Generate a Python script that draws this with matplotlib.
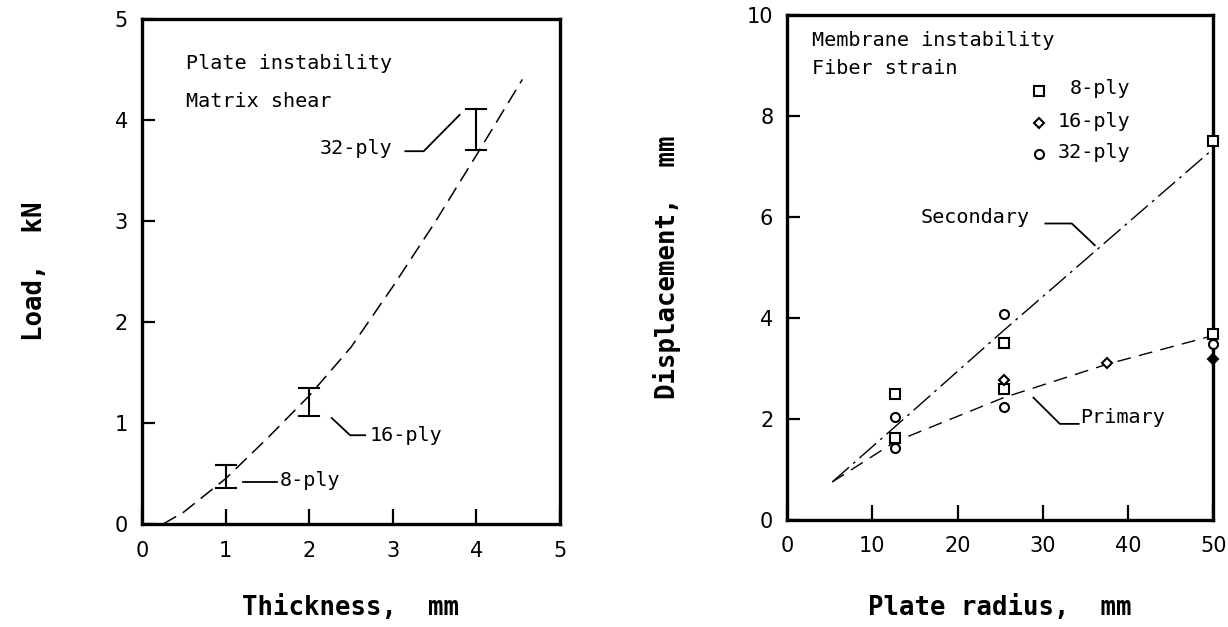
import matplotlib
matplotlib.use("Agg")
import matplotlib.pyplot as plt
import numpy as np

# left panel: plate instability / matrix shear
thick_curve = [0.25, 0.5, 1.0, 1.5, 2.0, 2.5, 3.0, 3.5, 4.0, 4.55]
load_curve = [0.0, 0.12, 0.45, 0.85, 1.27, 1.75, 2.35, 2.98, 3.65, 4.4]
ply_thick = [1, 2, 4]
load_lo = [0.36, 1.07, 3.70]
load_hi = [0.59, 1.35, 4.11]
ply_names = ["8-ply", "16-ply", "32-ply"]

# right panel: membrane instability / fiber strain
sec_r = [5.3, 12.7, 25.4, 50]
sec_d = [0.75, 1.85, 3.75, 7.35]
pri_r = [5.3, 12.7, 25.4, 37.5, 50]
pri_d = [0.75, 1.55, 2.42, 3.08, 3.65]
sq_r = [12.7, 12.7, 25.4, 25.4, 50, 50]
sq_d = [2.5, 1.63, 3.5, 2.6, 7.5, 3.69]
dia_r = [25.4, 37.5]
dia_d = [2.76, 3.1]
dia_fill_r = [50]
dia_fill_d = [3.19]
circ_r = [12.7, 12.7, 25.4, 25.4, 50]
circ_d = [2.03, 1.43, 4.08, 2.23, 3.49]

mono = "DejaVu Sans Mono"
txt = dict(family=mono, fontsize=14.5)
lab = dict(family=mono, fontsize=18.5, fontweight="bold")

fig = plt.figure(figsize=(12.28, 6.27), dpi=100)
ax1 = fig.add_axes([0.1156, 0.164, 0.3404, 0.806])
ax2 = fig.add_axes([0.641, 0.171, 0.347, 0.805])

for ax in (ax1, ax2):
    for s in ax.spines.values():
        s.set_linewidth(2.4)
    ax.tick_params(direction="in", length=9, width=1.6, labelsize=15,
                   top=False, right=False, pad=10)
    ax.tick_params(axis="x", length=11, pad=12)

# ---- left
ax1.plot(thick_curve, load_curve, color="black", lw=1.1, dashes=(10, 5))
for x, lo, hi in zip(ply_thick, load_lo, load_hi):
    ax1.plot([x, x], [lo, hi], color="black", lw=1.5)
    ax1.plot([x - 0.12, x + 0.12], [lo, lo], color="black", lw=1.5)
    ax1.plot([x - 0.12, x + 0.12], [hi, hi], color="black", lw=1.5)

ax1.plot([1.21, 1.61], [0.42, 0.42], color="black", lw=1.3)
ax1.text(1.65, 0.43, ply_names[0], va="center", **txt)
ax1.plot([2.27, 2.49, 2.67], [1.05, 0.88, 0.88], color="black", lw=1.3)
ax1.text(2.72, 0.88, ply_names[1], va="center", **txt)
ax1.plot([3.15, 3.37, 3.8], [3.69, 3.69, 4.05], color="black", lw=1.3)
ax1.text(3.0, 3.72, ply_names[2], va="center", ha="right", **txt)

ax1.text(0.53, 4.56, "Plate instability", va="center", **txt)
ax1.text(0.53, 4.18, "Matrix shear", va="center", **txt)

ax1.set_xlim(0, 5)
ax1.set_ylim(0, 5)
ax1.set_xticks([0, 1, 2, 3, 4, 5])
ax1.set_yticks([0, 1, 2, 3, 4, 5])
ax1.set_xlabel("Thickness,  mm", **lab)
ax1.set_ylabel("Load,  kN", **lab)
ax1.xaxis.set_label_coords(0.5, -0.14)
ax1.yaxis.set_label_coords(-0.225, 0.5)

# ---- right
ax2.plot(sec_r, sec_d, color="black", lw=1.0, dashes=(16, 4, 2, 4))
ax2.plot(pri_r, pri_d, color="black", lw=1.0, dashes=(10, 6))
mk = dict(color="black", linestyle="none", clip_on=False, zorder=5)
ax2.plot(sq_r, sq_d, marker="s", ms=6.5, mfc="white", mew=1.5, **mk)
ax2.plot(dia_r, dia_d, marker="D", ms=5, mfc="white", mew=1.5, **mk)
ax2.plot(dia_fill_r, dia_fill_d, marker="D", ms=5, mfc="black", mew=1.5, **mk)
ax2.plot(circ_r, circ_d, marker="o", ms=6.5, mfc="white", mew=1.5, **mk)

# legend drawn by hand
ax2.plot([29.5], [8.5], marker="s", ms=6.5, mfc="white", mew=1.5, **mk)
ax2.plot([29.5], [7.87], marker="D", ms=5, mfc="white", mew=1.5, **mk)
ax2.plot([29.5], [7.25], marker="o", ms=6.5, mfc="white", mew=1.5, **mk)
ax2.text(40.3, 8.55, ply_names[0], va="center", ha="right", **txt)
ax2.text(40.3, 7.9, ply_names[1], va="center", ha="right", **txt)
ax2.text(40.3, 7.28, ply_names[2], va="center", ha="right", **txt)

ax2.text(2.9, 9.5, "Membrane instability", va="center", **txt)
ax2.text(2.9, 8.95, "Fiber strain", va="center", **txt)

ax2.text(15.7, 5.99, "Secondary", va="center", **txt)
ax2.plot([30.3, 33.4, 36.1], [5.87, 5.87, 5.44], color="black", lw=1.3)
ax2.text(34.4, 2.02, "Primary", va="center", **txt)
ax2.plot([28.9, 32.0, 34.2], [2.42, 1.9, 1.9], color="black", lw=1.3)

ax2.set_xlim(0, 50)
ax2.set_ylim(0, 10)
ax2.set_xticks([0, 10, 20, 30, 40, 50])
ax2.set_yticks([0, 2, 4, 6, 8, 10])
ax2.set_xlabel("Plate radius,  mm", **lab)
ax2.set_ylabel("Displacement,  mm", **lab)
ax2.xaxis.set_label_coords(0.5, -0.15)
ax2.yaxis.set_label_coords(-0.25, 0.5)

fig.savefig("out.png", dpi=100)
